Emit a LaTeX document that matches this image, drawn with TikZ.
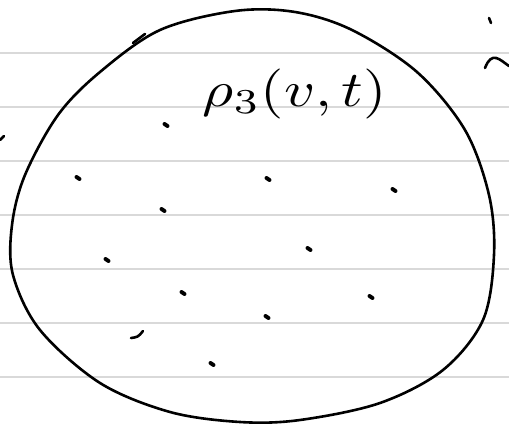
\documentclass[tikz,border=0pt]{standalone}
\usepackage{tikz}
\usetikzlibrary{calc}
\definecolor{ruleGray}{HTML}{D9D9D9}

\begin{document}
\begin{tikzpicture}[x=1pt,y=-1pt,
    ruling/.style={ruleGray, line width=2.5pt},
    pen/.style={black, line width=2.6pt, line cap=round, line join=round},
    speck/.style={black, line width=4pt, line cap=round}]
    \useasboundingbox (0,0) rectangle (509,425);

    % ruled paper
    \foreach \y in {53,107,161,215,269,323,377}
        \draw[ruling] (0,\y) -- (509,\y);

    % the blob
    \draw[pen] plot[smooth cycle, tension=0.55] coordinates {
        (235,11) (295,12) (352,30) (417,72) (465,130) (489,195) (494,255) (483,320)
        (443,370) (380,403) (300,420) (240,422) (170,412) (100,383)
        (40,330) (13,275) (12,225) (25,175) (58,115) (100,72) (160,30)};
    \draw[pen] (145,34) -- (133,43);

    % label
    \node[scale=5, xscale=1.2, inner sep=0pt] (rho) at (295,94) {$\rho_3(v,t)$};

    % specks inside
    \foreach \px/\py in {166/125,78/178,163/210,268/179,394/190,107/260,
                         309/249,183/293,371/297,267/317,212/364}
        \draw[speck] (\px-1.5,\py-1) -- (\px+1.5,\py+1);
    \draw[pen] (131,338) .. controls (138,337) .. (143,331);

    % stray marks outside
    \draw[pen] (0,140) -- (4,136);
    \draw[pen] (489,18) -- (491,23);
    \draw[pen] (485,68) .. controls (492,50) and (500,60) .. (509,66);
\end{tikzpicture}
\end{document}
